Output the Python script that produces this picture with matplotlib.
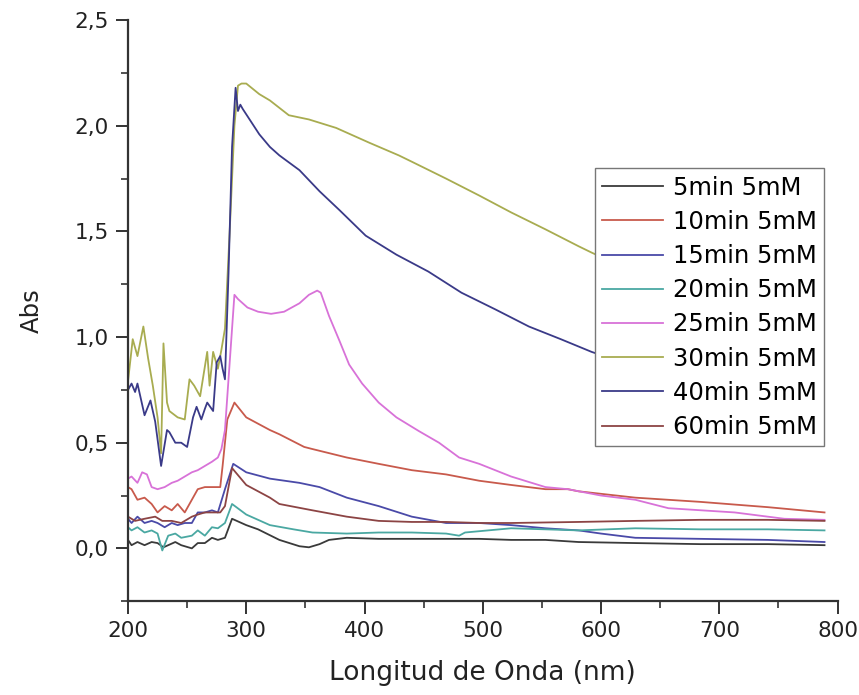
import matplotlib
matplotlib.use("Agg")
import matplotlib.pyplot as plt
from matplotlib.ticker import MultipleLocator, FuncFormatter

# wavelengths (nm) and absorbance, one pair per series
wl_05 = [200, 203, 208, 214, 220, 225, 230, 234, 240, 245, 254, 259, 265, 271, 276, 282,
         288, 300, 310, 328, 345, 353, 362, 370, 385, 412, 440, 469, 497, 524, 553,
         581, 629, 684, 741, 789]
abs_05 = [0.04, 0.015, 0.03, 0.015, 0.03, 0.025, 0.005, 0.015, 0.03, 0.015, 0.0, 0.025,
          0.025, 0.05, 0.04, 0.05, 0.14, 0.11, 0.09, 0.04, 0.01, 0.005, 0.02, 0.04,
          0.05, 0.045, 0.045, 0.045, 0.045, 0.04, 0.04, 0.03, 0.025, 0.02, 0.02, 0.015]

wl_10 = [200, 203, 208, 214, 220, 225, 231, 237, 242, 248, 254, 259, 265, 271, 278, 280,
         284, 290, 300, 320, 328, 349, 356, 385, 412, 440, 469, 497, 524, 553, 572,
         581, 629, 684, 741, 789]
abs_10 = [0.29, 0.28, 0.23, 0.24, 0.21, 0.17, 0.20, 0.18, 0.21, 0.17, 0.23, 0.28, 0.29,
          0.29, 0.29, 0.39, 0.61, 0.69, 0.62, 0.56, 0.54, 0.48, 0.47, 0.43, 0.40, 0.37,
          0.35, 0.32, 0.30, 0.28, 0.28, 0.27, 0.24, 0.22, 0.195, 0.17]

wl_15 = [200, 203, 208, 214, 220, 225, 231, 237, 242, 248, 254, 259, 265, 271, 276, 282,
         289, 300, 320, 345, 362, 385, 412, 440, 469, 497, 524, 553, 581, 600, 629,
         684, 741, 789]
abs_15 = [0.14, 0.12, 0.15, 0.12, 0.13, 0.12, 0.10, 0.12, 0.11, 0.12, 0.12, 0.17, 0.17,
          0.18, 0.17, 0.28, 0.40, 0.36, 0.33, 0.31, 0.29, 0.24, 0.20, 0.15, 0.12, 0.12,
          0.11, 0.095, 0.085, 0.07, 0.05, 0.045, 0.04, 0.03]

wl_20 = [200, 203, 208, 214, 220, 225, 229, 234, 240, 245, 254, 259, 265, 271, 276, 282,
         288, 300, 320, 340, 356, 385, 412, 440, 469, 480, 485, 524, 553, 581, 629,
         684, 741, 789]
abs_20 = [0.10, 0.085, 0.10, 0.075, 0.085, 0.07, -0.01, 0.06, 0.07, 0.05, 0.06, 0.085,
          0.06, 0.10, 0.095, 0.12, 0.21, 0.16, 0.11, 0.09, 0.075, 0.07, 0.075, 0.075,
          0.07, 0.06, 0.075, 0.095, 0.09, 0.085, 0.095, 0.09, 0.09, 0.085]

wl_25 = [200, 203, 208, 212, 216, 220, 225, 231, 237, 242, 248, 254, 259, 265, 271, 276,
         279, 282, 290, 293, 301, 310, 321, 332, 345, 353, 360, 363, 370, 379, 387,
         398, 412, 427, 446, 463, 480, 497, 524, 553, 572, 600, 629, 657, 713, 755, 789]
abs_25 = [0.33, 0.34, 0.31, 0.36, 0.35, 0.29, 0.28, 0.29, 0.31, 0.32, 0.34, 0.36, 0.37,
          0.39, 0.41, 0.43, 0.47, 0.56, 1.20, 1.18, 1.14, 1.12, 1.11, 1.12, 1.16, 1.20,
          1.22, 1.21, 1.10, 0.98, 0.87, 0.78, 0.69, 0.62, 0.555, 0.50, 0.43, 0.40,
          0.34, 0.29, 0.28, 0.25, 0.23, 0.19, 0.17, 0.14, 0.135]

wl_30 = [200, 204, 208, 213, 217, 221, 225, 228, 230, 233, 235, 242, 248, 252, 256, 261,
         267, 269, 272, 276, 279, 282, 286, 290, 293, 296, 300, 311, 320, 336, 353,
         376, 404, 429, 440, 469, 497, 524, 553, 581, 592, 650, 700, 780]
abs_30 = [0.79, 0.99, 0.91, 1.05, 0.90, 0.77, 0.62, 0.45, 0.97, 0.69, 0.65, 0.62, 0.61,
          0.80, 0.77, 0.72, 0.93, 0.77, 0.93, 0.85, 0.94, 1.04, 1.50, 2.00, 2.19, 2.20,
          2.20, 2.15, 2.12, 2.05, 2.03, 1.99, 1.92, 1.86, 1.83, 1.75, 1.67, 1.59, 1.51,
          1.43, 1.40, 1.25, 1.12, 0.92]

wl_40 = [200, 203, 206, 208, 214, 219, 223, 228, 233, 235, 240, 245, 250, 255, 258, 262,
         265, 267, 272, 275, 278, 280, 282, 285, 288, 291, 293, 295, 297, 311, 320,
         328, 345, 362, 379, 401, 427, 454, 482, 511, 539, 566, 592, 650, 720, 780]
abs_40 = [0.75, 0.78, 0.74, 0.78, 0.63, 0.70, 0.60, 0.39, 0.56, 0.55, 0.50, 0.50, 0.48,
          0.62, 0.67, 0.61, 0.66, 0.69, 0.65, 0.88, 0.91, 0.85, 0.80, 1.30, 1.90, 2.18,
          2.07, 2.10, 2.08, 1.96, 1.90, 1.86, 1.79, 1.69, 1.60, 1.48, 1.39, 1.31, 1.21,
          1.13, 1.05, 0.99, 0.93, 0.82, 0.70, 0.60]

wl_60 = [200, 206, 214, 223, 229, 237, 245, 254, 259, 265, 271, 278, 282, 288, 300, 320,
         328, 356, 385, 412, 440, 469, 497, 524, 581, 629, 684, 741, 789]
abs_60 = [0.15, 0.13, 0.14, 0.15, 0.13, 0.13, 0.12, 0.15, 0.16, 0.17, 0.17, 0.17, 0.20,
          0.38, 0.30, 0.24, 0.21, 0.18, 0.15, 0.13, 0.125, 0.125, 0.12, 0.12, 0.125,
          0.13, 0.135, 0.135, 0.13]

series = [
    (wl_05, abs_05, "5min 5mM", "#3a3a3a"),
    (wl_10, abs_10, "10min 5mM", "#c85a4c"),
    (wl_15, abs_15, "15min 5mM", "#4a4aa8"),
    (wl_20, abs_20, "20min 5mM", "#4aa8a2"),
    (wl_25, abs_25, "25min 5mM", "#d872d8"),
    (wl_30, abs_30, "30min 5mM", "#a8ac50"),
    (wl_40, abs_40, "40min 5mM", "#3a3a88"),
    (wl_60, abs_60, "60min 5mM", "#8c4444"),
]

fig = plt.figure(figsize=(8.59, 6.95), dpi=100)
ax = fig.add_axes([0.149, 0.135, 0.826, 0.836])

for wl, ab, label, color in series:
    ax.plot(wl, ab, color=color, lw=1.3, label=label)

ax.set_xlim(200, 800)
ax.set_ylim(-0.25, 2.5)
ax.xaxis.set_major_locator(MultipleLocator(100))
ax.xaxis.set_minor_locator(MultipleLocator(50))
ax.yaxis.set_major_locator(MultipleLocator(0.5))
ax.yaxis.set_minor_locator(MultipleLocator(0.25))
ax.yaxis.set_major_formatter(FuncFormatter(lambda v, p: ("%.1f" % v).replace(".", ",")))

for side in ["top", "right"]:
    ax.spines[side].set_visible(False)
for side in ["left", "bottom"]:
    ax.spines[side].set_linewidth(1.6)
    ax.spines[side].set_color("#333333")

ax.tick_params(which="major", direction="out", length=9, width=1.4, pad=5,
               labelsize=15.5, colors="#333333", labelcolor="#222222")
ax.tick_params(which="minor", direction="out", length=5, width=1.2, colors="#333333")

ax.set_xlabel("Longitud de Onda (nm)", fontsize=19, color="#222222", labelpad=14)
ax.set_ylabel("Abs", fontsize=17.5, color="#222222", labelpad=22)

leg = ax.legend(loc="upper left", bbox_to_anchor=(0.658, 0.745), fontsize=17.5,
                frameon=True, fancybox=False, framealpha=1, edgecolor="#777777",
                handlelength=2.5, handletextpad=0.4, labelspacing=0.42,
                borderpad=0.3, borderaxespad=0)
leg.get_frame().set_linewidth(1.0)

fig.savefig("out.png", dpi=100, facecolor="white")
